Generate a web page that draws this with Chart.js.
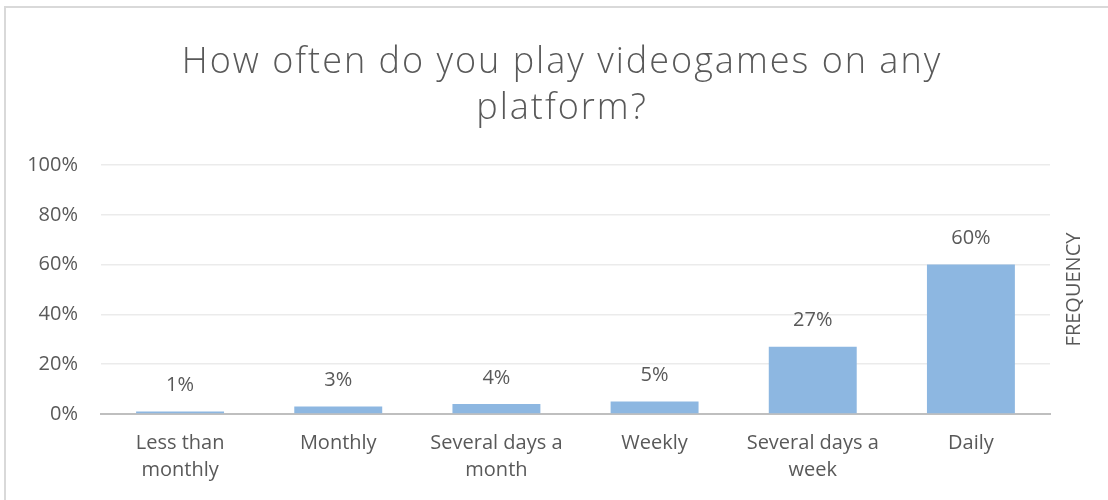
<!DOCTYPE html>
<html>
<head>
<meta charset="utf-8">
<script src="https://cdn.jsdelivr.net/npm/chart.js@4"></script>
<style>
    html, body { margin: 0; padding: 0; background: #fff; }
    .wrap { position: relative; width: 1108px; height: 500px; }
    .frame {
        position: absolute; left: 4px; top: 6px; right: 0; bottom: 0;
        border-top: 2px solid #d9d9d9; border-left: 2px solid #d9d9d9;
        pointer-events: none;
    }
    canvas { position: absolute; left: 0; top: 0; }
</style>
</head>
<body>
<div class="wrap">
    <canvas id="chart" width="1108" height="500"></canvas>
    <div class="frame"></div>
</div>
<script>
// Survey answers, share of respondents in percent
const categories = [
    ['Less than', 'monthly'],
    'Monthly',
    ['Several days a', 'month'],
    'Weekly',
    ['Several days a', 'week'],
    'Daily'
];
const shares = [1, 3, 4, 5, 27, 60];
const yTicks = [0, 20, 40, 60, 80, 100];
const titleLines = ['How often do you play videogames on any', 'platform?'];

const textColor = '#595959';
const fontFamily = '"Open Sans", "DejaVu Sans", sans-serif';

// Two-line heading, drawn by hand so it can be spaced out a little
const heading = {
    id: 'heading',
    afterDraw(chart) {
        const ctx = chart.ctx;
        ctx.save();
        ctx.font = `300 36px ${fontFamily}`;
        ctx.letterSpacing = '2px';
        ctx.fillStyle = textColor;
        ctx.textAlign = 'center';
        ctx.textBaseline = 'alphabetic';
        titleLines.forEach((line, i) => {
            ctx.fillText(line, 562, 73 + i * 46);
        });
        ctx.restore();
    }
};

// Percent labels above each bar
const valueLabels = {
    id: 'valueLabels',
    afterDatasetsDraw(chart) {
        const ctx = chart.ctx;
        const meta = chart.getDatasetMeta(0);
        ctx.save();
        ctx.font = `20px ${fontFamily}`;
        ctx.fillStyle = textColor;
        ctx.textAlign = 'center';
        ctx.textBaseline = 'middle';
        meta.data.forEach((bar, i) => {
            ctx.fillText(shares[i] + '%', bar.x, bar.y - 26);
        });
        ctx.restore();
    }
};

// Axis title on the right side, reading bottom to top
const sideTitle = {
    id: 'sideTitle',
    afterDraw(chart) {
        const { ctx, chartArea } = chart;
        ctx.save();
        ctx.translate(chartArea.right + 24, (chartArea.top + chartArea.bottom) / 2);
        ctx.rotate(-Math.PI / 2);
        ctx.font = `20px ${fontFamily}`;
        ctx.fillStyle = textColor;
        ctx.textAlign = 'center';
        ctx.textBaseline = 'middle';
        ctx.fillText('FREQUENCY', 0, 0);
        ctx.restore();
    }
};

new Chart(document.getElementById('chart'), {
    type: 'bar',
    data: {
        labels: categories,
        datasets: [{
            data: shares,
            backgroundColor: 'rgb(141, 183, 225)',
            categoryPercentage: 1,
            barPercentage: 0.556
        }]
    },
    options: {
        responsive: false,
        animation: false,
        layout: {
            padding: { left: 0, right: 58, top: 165, bottom: 0 }
        },
        plugins: {
            legend: { display: false },
            tooltip: { enabled: false },
            title: { display: false }
        },
        scales: {
            x: {
                grid: { display: false, drawTicks: false },
                border: { color: '#bfbfbf', width: 2 },
                ticks: {
                    color: textColor,
                    font: { family: fontFamily, size: 20, lineHeight: 1.35 },
                    padding: 16,
                    maxRotation: 0,
                    autoSkip: false
                }
            },
            y: {
                min: 0,
                max: 100,
                afterBuildTicks(scale) {
                    scale.ticks = yTicks.map(v => ({ value: v }));
                },
                afterFit(scale) {
                    scale.width = 101;
                },
                grid: { color: '#ebebeb', lineWidth: 1.5, drawTicks: false },
                border: { display: false },
                ticks: {
                    color: textColor,
                    font: { family: fontFamily, size: 20 },
                    padding: 23,
                    callback: v => v + '%'
                }
            }
        }
    },
    plugins: [heading, valueLabels, sideTitle]
});
</script>
</body>
</html>
